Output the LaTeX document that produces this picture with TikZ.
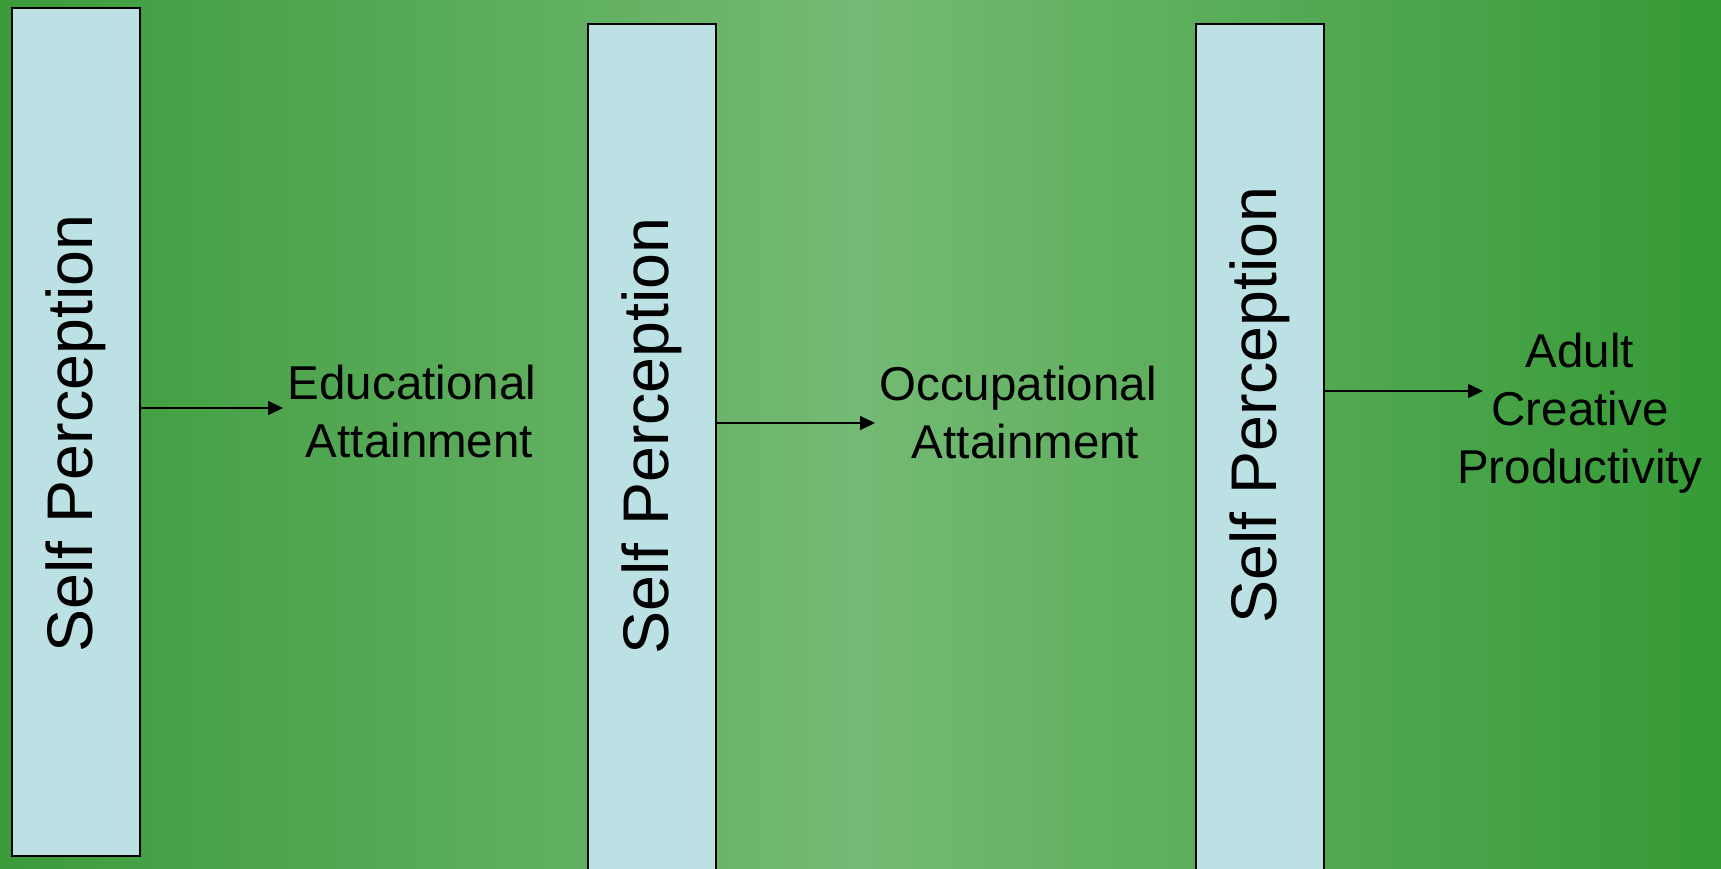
\documentclass[tikz,border=0pt]{standalone}
\usepackage{fontspec}
\setmainfont{Liberation Sans}
\usetikzlibrary{arrows.meta}

\definecolor{bgleft}{HTML}{3B9B3B}
\definecolor{bgright}{HTML}{359A35}
\definecolor{bglight}{HTML}{74BA74}
\definecolor{boxblue}{HTML}{BCE1E5}

\tikzset{
  percbox/.style={draw=black, line width=2pt, fill=boxblue, inner sep=0pt, minimum width=128pt},
  perctext/.style={rotate=90, inner sep=0pt, font=\fontsize{64.5}{78}\selectfont},
  goal/.style={align=center, inner sep=0pt, font=\fontsize{47.5}{58}\selectfont},
  flow/.style={line width=1.5pt, -{Triangle[length=15pt,width=14pt]}}
}

\begin{document}
\begin{tikzpicture}[x=1pt,y=-1pt]
    \useasboundingbox (0,0) rectangle (1721,869);
    \shade[left color=bgleft, right color=bgright, middle color=bglight] (0,0) rectangle (1721,869);
    % self perception columns
    \node[percbox, minimum height=848pt] (sp1) at (76,432) {};
    \node[percbox, minimum height=866pt] (sp2) at (652,457) {};
    \node[percbox, minimum height=866pt] (sp3) at (1260,457) {};
    \node[perctext] (sp1 text) at (76,433.5) {Self Perception};
    \node[perctext] (sp2 text) at (652,436) {Self Perception};
    \node[perctext] (sp3 text) at (1260,405) {Self Perception};
    % outcomes
    \node[goal] (edu) at (412,412) {Educational\\\hspace*{15pt}Attainment};
    \node[goal] (occ) at (1018,413) {Occupational\\\hspace*{15pt}Attainment};
    \node[goal] (acp) at (1580,413) {Adult\\Creative\\Productivity};
    \coordinate (edu tip) at (283,408);
    \coordinate (occ tip) at (875,423);
    \coordinate (acp tip) at (1483,391);
    \draw[flow] (sp1.east |- edu tip) -- (edu tip);
    \draw[flow] (sp2.east |- occ tip) -- (occ tip);
    \draw[flow] (sp3.east |- acp tip) -- (acp tip);
\end{tikzpicture}
\end{document}
